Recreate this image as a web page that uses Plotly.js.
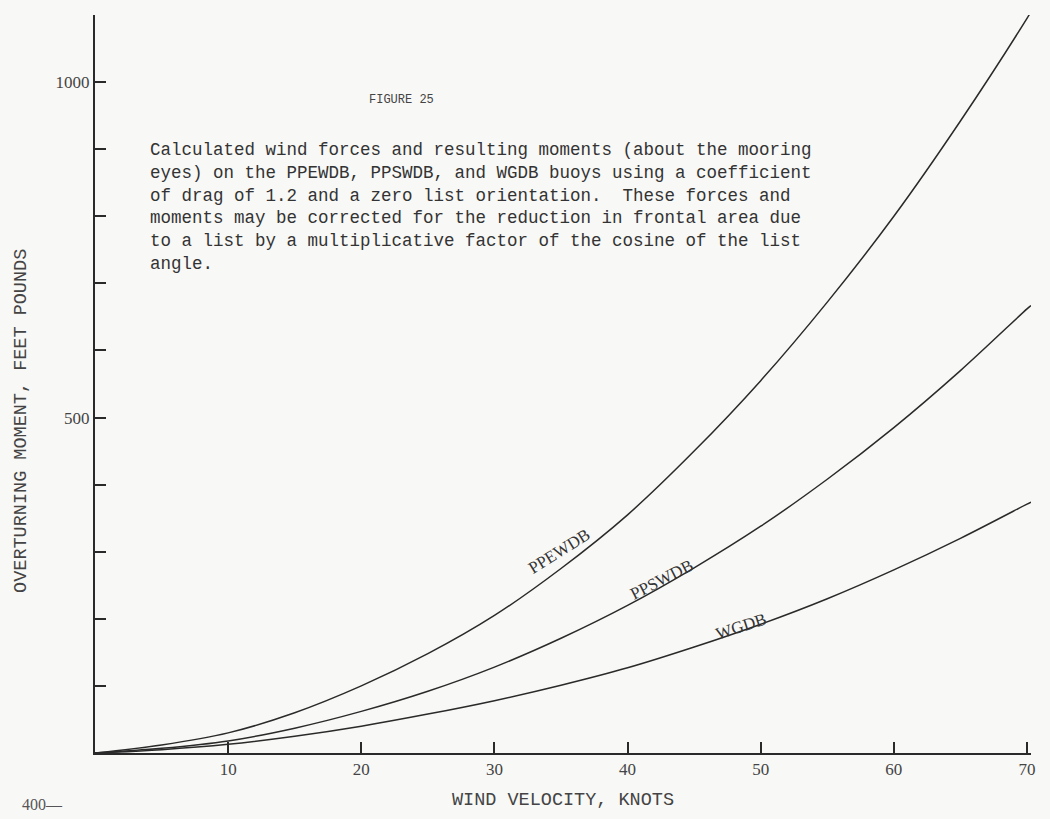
<!DOCTYPE html>
<html>
<head>
<meta charset="utf-8">
<script src="https://cdn.plot.ly/plotly-3.0.1.min.js"></script>
<style>
  html, body { margin: 0; padding: 0; background: #f8f8f6; }
  #chart { width: 1050px; height: 819px; }
</style>
</head>
<body>
<div id="chart"></div>
<script>
// Wind velocity (knots)
const velocity = [0, 5, 10, 15, 20, 25, 30, 35, 40, 45, 50, 55, 60, 65, 70, 70.3];
// Overturning moment, feet pounds
const ppewdb = [0, 12, 30, 60, 100, 148, 205, 275, 355, 450, 555, 672, 800, 942, 1095, 1105];
const ppswdb = [0, 7, 18, 37, 62, 92, 128, 171, 220, 276, 338, 408, 485, 570, 662, 667];
const wgdb   = [0, 5, 13, 25, 40, 58, 78, 101, 127, 158, 192, 230, 273, 320, 371, 374];

const xTickVals = [10, 20, 30, 40, 50, 60, 70];
const yTickVals = [0, 100, 200, 300, 400, 500, 600, 700, 800, 900, 1000, 1100];
const yTickText = ['', '', '', '', '', '500', '', '', '', '', '1000', ''];

const seriesNames = ['PPEWDB', 'PPSWDB', 'WGDB'];
const seriesValues = [ppewdb, ppswdb, wgdb];

const caption = [
  'Calculated wind forces and resulting moments (about the mooring',
  'eyes) on the PPEWDB, PPSWDB, and WGDB buoys using a coefficient',
  'of drag of 1.2 and a zero list orientation.  These forces and',
  'moments may be corrected for the reduction in frontal area due',
  'to a list by a multiplicative factor of the cosine of the list',
  'angle.'
];

const ink = '#2a2a2a';
const traces = seriesNames.map((n, i) => ({
  type: 'scatter', mode: 'lines', name: n,
  x: velocity, y: seriesValues[i],
  line: { color: ink, width: 1.5, shape: 'spline', smoothing: 1 },
  hoverinfo: 'x+y+name'
}));

const mono = 'Liberation Mono, Courier New, monospace';
const serif = 'Liberation Serif, DejaVu Serif, serif';

const layout = {
  width: 1050, height: 819,
  margin: { l: 95, r: 19, t: 15, b: 66 },
  paper_bgcolor: '#f8f8f6', plot_bgcolor: '#f8f8f6',
  showlegend: false,
  xaxis: {
    range: [0, 70.3], autorange: false,
    tickvals: xTickVals, ticks: 'inside', ticklen: 11, tickwidth: 2, tickcolor: ink,
    showline: true, linecolor: ink, linewidth: 2, showgrid: false, zeroline: false,
    tickfont: { family: serif, size: 17, color: '#444' },
    title: { text: 'WIND VELOCITY, KNOTS', font: { family: mono, size: 18.5, color: '#444' }, standoff: 14 }
  },
  yaxis: {
    range: [0, 1100], autorange: false,
    tickvals: yTickVals, ticktext: yTickText, ticks: 'inside', ticklen: 11, tickwidth: 2, tickcolor: ink,
    showline: true, linecolor: ink, linewidth: 2, showgrid: false, zeroline: false,
    tickfont: { family: serif, size: 17, color: '#444' }
  },
  annotations: [
    { text: 'FIGURE 25', xref: 'x', yref: 'y', x: 23.0, y: 973, showarrow: false,
      font: { family: mono, size: 12, color: '#444' } },
    { text: caption.join('<br>'), xref: 'x', yref: 'y', x: 3.98, y: 916, xanchor: 'left', yanchor: 'top',
      align: 'left', showarrow: false, font: { family: mono, size: 17.5, color: '#333' } },
    { text: 'OVERTURNING MOMENT, FEET POUNDS', xref: 'paper', yref: 'paper', x: -0.078, xanchor: 'center', y: 0.45,
      yanchor: 'middle', textangle: -90, showarrow: false, font: { family: mono, size: 18.5, color: '#444' } },
    { text: 'PPEWDB', xref: 'x', yref: 'y', x: 34.86, y: 300, textangle: -32, showarrow: false,
      font: { family: serif, size: 17, color: '#333' } },
    { text: 'PPSWDB', xref: 'x', yref: 'y', x: 42.6, y: 258, textangle: -27, showarrow: false,
      font: { family: serif, size: 17, color: '#333' } },
    { text: 'WGDB', xref: 'x', yref: 'y', x: 48.5, y: 189, textangle: -18, showarrow: false,
      font: { family: serif, size: 17, color: '#333' } },
    { text: '400—', xref: 'paper', yref: 'paper', x: -0.032, xanchor: 'right', y: -0.07, yanchor: 'middle', showarrow: false,
      font: { family: serif, size: 16, color: '#555' } }
  ]
};

Plotly.newPlot('chart', traces, layout, { staticPlot: true, displayModeBar: false });
</script>
</body>
</html>
